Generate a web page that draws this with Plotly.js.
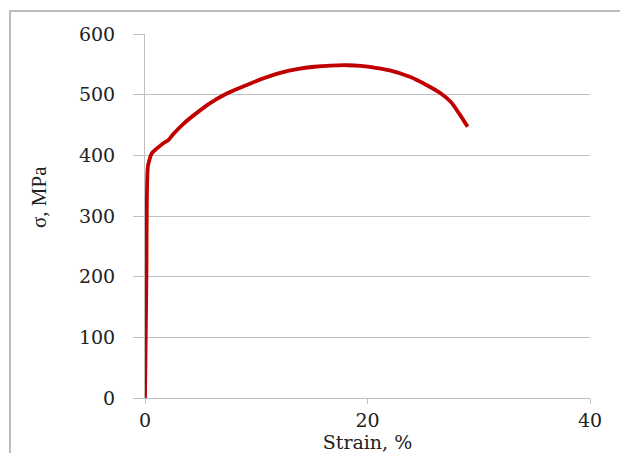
<!DOCTYPE html>
<html>
<head>
<meta charset="utf-8">
<script src="https://cdn.plot.ly/plotly-3.0.1.min.js"></script>
<style>html,body{margin:0;padding:0;background:#fff;}#chart{width:620px;height:453px;}</style>
</head>
<body>
<div id="chart"></div>
<script>
// Strain (%) and stress (MPa)
const strain = [0, 0.12, 0.25, 0.39, 0.6, 1.05, 1.65, 2.1, 2.55, 3.45, 4.66, 5.86, 7.05, 8.5, 9.16, 10.66, 12.16, 13.66, 15.2, 16.7, 18.2, 19.4, 20.2, 22.0, 23.8, 25.3, 26.6, 27.5, 28.2, 29.0];
const stress = [0, 190, 380, 392, 403, 411, 420, 425, 435, 452, 470, 486, 499, 511, 516, 527, 536, 542, 546, 548, 548.5, 547.5, 546, 540, 529.5, 516, 502, 488, 470, 447];
const xTicks = [0, 20, 40];
const yTicks = [0, 100, 200, 300, 400, 500, 600];
const xTitle = 'Strain, %';
const yTitle = 'σ, MPa';

const serif = 'DejaVu Serif, Liberation Serif, serif';
const gray = '#bfbfbf';

const trace = {
  x: strain, y: stress, type: 'scatter', mode: 'lines',
  line: {color: '#c00000', width: 3.8, shape: 'spline', smoothing: 0.8},
  hoverinfo: 'skip'
};

const L = 145, T = 34, W = 445, H = 364;
const layout = {
  width: 620, height: 453,
  margin: {l: L, r: 620 - L - W, t: T, b: 453 - T - H},
  paper_bgcolor: '#ffffff', plot_bgcolor: '#ffffff',
  showlegend: false,
  xaxis: {
    range: [0, 40], tickvals: xTicks, ticktext: xTicks.map(String),
    showgrid: false, zeroline: false,
    showline: true, linecolor: gray, linewidth: 1,
    ticks: 'outside', ticklen: 5, tickcolor: gray, tickwidth: 1,
    tickfont: {family: serif, size: 19, color: '#222'},
    title: {text: xTitle, font: {family: serif, size: 19, color: '#222'}, standoff: 2}
  },
  yaxis: {
    range: [0, 600], tickvals: yTicks, ticktext: yTicks.map(String),
    showgrid: true, gridcolor: gray, gridwidth: 1, zeroline: false,
    showline: true, linecolor: gray, linewidth: 1,
    ticks: 'outside', ticklen: 11, tickcolor: gray, tickwidth: 1,
    ticklabelstandoff: 14,
    tickfont: {family: serif, size: 19, color: '#222'},
    title: {text: ''}
  },
  annotations: [{
    text: yTitle, xref: 'paper', yref: 'paper',
    x: (39 - L) / W, y: (T + H - 197) / H,
    xanchor: 'center', yanchor: 'middle', textangle: -90, showarrow: false,
    font: {family: 'Liberation Serif, serif', size: 21, color: '#222'}
  }],
  shapes: [{
    type: 'path', xref: 'paper', yref: 'paper',
    path: 'M ' + ((10 - L) / W) + ' ' + ((T + H - 470) / H) + ' L ' + ((10 - L) / W) + ' ' + ((T + H - 11) / H) + ' L ' + ((640 - L) / W) + ' ' + ((T + H - 11) / H),
    line: {color: '#a6a6a6', width: 1.5}
  }]
};

Plotly.newPlot('chart', [trace], layout, {displayModeBar: false, staticPlot: true});
</script>
</body>
</html>
